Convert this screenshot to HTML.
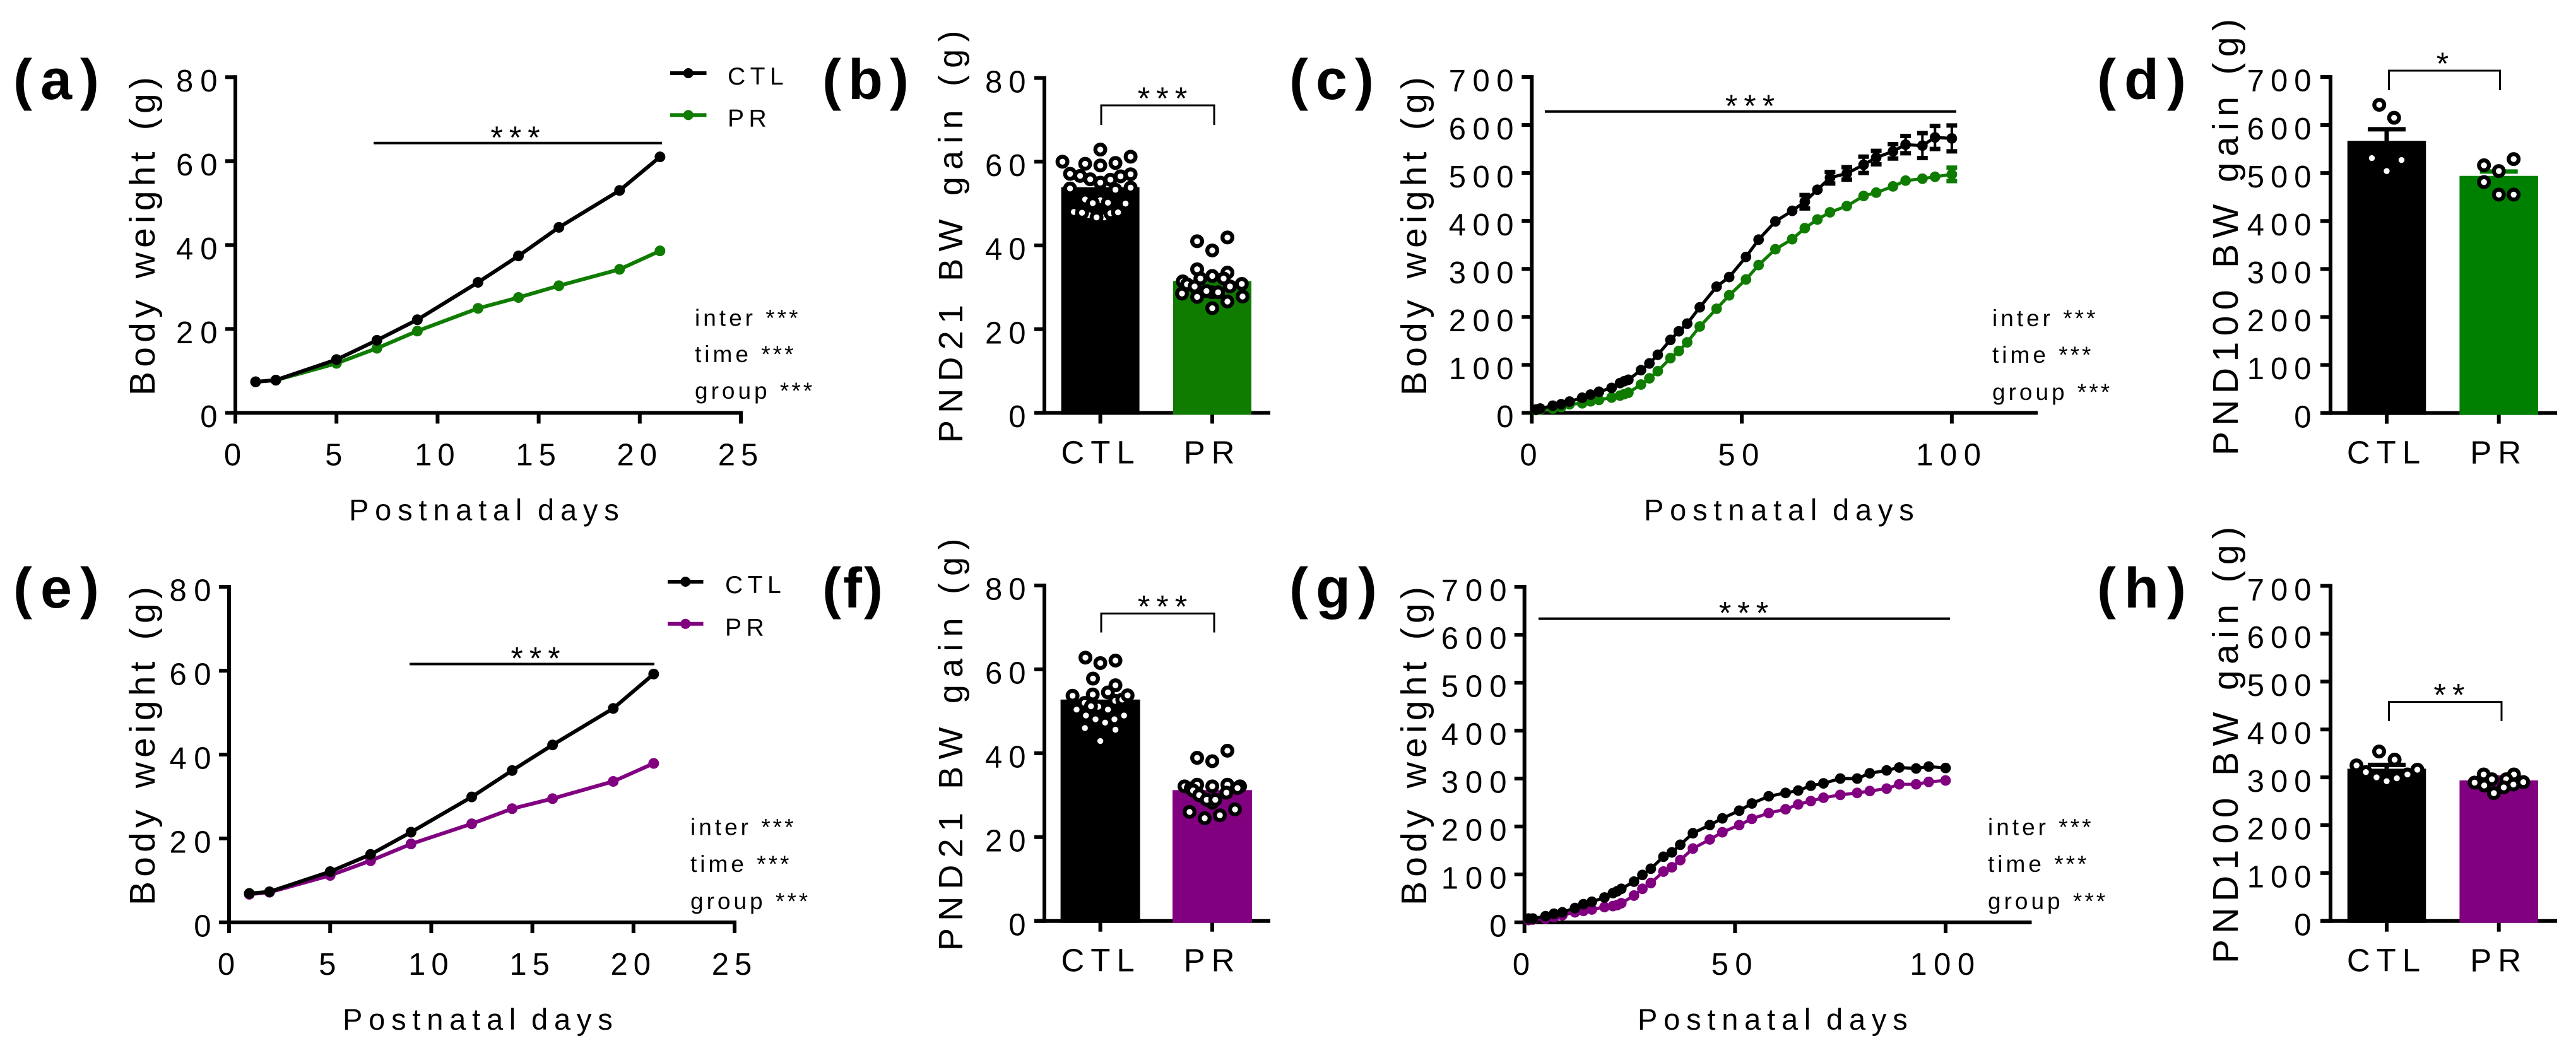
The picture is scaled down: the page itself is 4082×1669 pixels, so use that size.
<!DOCTYPE html>
<html lang="en">
<head>
<meta charset="utf-8">
<title>Body weight charts</title>
<style>
html,body{margin:0;padding:0;background:#fff;}
svg{display:block;font-family:"Liberation Sans",Arial,sans-serif;}
</style>
</head>
<body>
<svg id="figure" xmlns="http://www.w3.org/2000/svg" width="4082" height="1669" viewBox="0 0 4082 1669"></svg>
<script>
// ---------- data ----------
const daysShort = [1,2,5,7,9,12,14,16,19,21];
const daysLong = [1,2,5,7,9,12,14,16,19,21,22,23,26,28,30,33,35,37,40,44,47,51,54,58,62,65,68,71,75,79,82,86,89,93,96,100];
const xTicksShort = [0,5,10,15,20,25];
const xTicksLong = [0,50,100];
const yTicksSmall = [0,20,40,60,80];
const yTicksLarge = [0,100,200,300,400,500,600,700];
const categories = ['CTL','PR'];

const ctlA = [7.4,7.8,12.7,17.3,22.2,31.1,37.4,44.2,53,61];
const prA = [7.4,7.8,11.8,15.4,19.5,24.9,27.5,30.3,34.2,38.6];
const ctlE = [6.9,7.3,12.1,16.2,21.5,29.9,36.2,42.3,51,59.2];
const prE = [6.7,7.2,11.2,14.7,18.7,23.5,27.1,29.5,33.6,37.9];

const ctlC = [7,9,15,18,23.5,31.5,38,44,52,62,66,69,89,103,121,152,170,186,220,263,283,325,361,399,421,440,465,490,499,517,532,545,559,557,574,572];
const prC = [6,7,9,12,18,20,24,27,32,36,39,42,59,72,87,114,129,147,180,217,245,278,308,341,362,385,403,418,431,452,459,472,484,488,492,497];
const ctlCErr = [0,0,0,0,0,0,0,0,0,0,0,0,0,0,0,0,0,0,0,0,0,0,0,0,0,14,0,12,13,17,14,15,18,26,24,27];
const prCErr = [0,0,0,0,0,0,0,0,0,0,0,0,0,0,0,0,0,0,0,0,0,0,0,0,0,0,0,0,0,0,0,0,0,0,0,14];

const ctlG = [8,8,13,18,21,30,38,43,52,61,65,70,85,99,112,137,146,162,186,203,217,233,248,263,270,275,285,290,300,300,311,317,323,321,325,322];
const prG = [5,6,8,11,15,21,24,27,32,34,36,40,56,70,82,106,115,130,154,173,188,203,216,228,236,246,253,260,266,270,274,279,288,288,293,296];

const meansB = [53.9,31.5];
const meansD = [567,494];
const errsD = [24,9];
const meansF = [52.8,31.2];
const meansH = [318,293.6];
const errsH = [8,6];

// scatter values and their swarm lanes (lane = horizontal swarm slot)
const ptsBCtl = [51.0,50.8,48.0,47.2,46.7,47.7,62.9,60.0,59.5,59.1,59.7,61.2,57.1,56.6,55.8,55.0,55.7,56.5,57.0,53.6,53.3,53.8,50.1,50.2,50.0,47.8,46.7,47.9];
const lanesBCtl = [-6,0,-10.5,-4.4,1.5,4,0,-15,-6,0,6,12,-12,-8,-4,0,4,8,12,-12,6,12,-3,3,10,-7.25,-1.5,7];
const ptsBPr = [33.5,30.8,28.8,41.9,41.0,38.8,34.3,32.7,32.1,32.1,31.4,30.7,30.2,30.2,29.1,28.8,28.5,27.7,26.6,27.8,25.0];
const lanesBPr = [6,11.7,0,6,-6,0,-6,0,-4.7,4.5,-11.7,-10,-7,7,-2.3,2.3,-12,-6,6,12,0];

const ptsDCtl = [642,615,531,527,504];
const lanesDCtl = [-3,3,-6,6,0];
const ptsDPr = [529,516,504,481,455,455];
const lanesDPr = [6,-6,0,-6,0,6];

const ptsFCtl = [51.1,52.5,52.8,62.8,61.5,62.1,57.8,56.2,54,54.5,53.7,53.8,52,51.2,50.4,50.4,49,48.1,47.3,48.1,49,46,45.6,42.9];
const lanesFCtl = [-0.8,5.9,8.7,-5.9,0,6,-2.9,6,-3,3,-11,10.8,-6.2,-3.7,-9.4,3,-5.7,-1.9,1.9,5.6,9.4,-6.1,6,0];
const ptsFPr = [32.1,28.2,31.6,40.6,38.9,38.1,32.5,32.1,32.5,32.1,31.1,31.7,30.6,30,28.9,28.9,26,26.6,25.2,24.5];
const lanesFPr = [-11,0,-8.5,6,-6,0,-6,0,6,11,-7.6,10,5.6,-5.2,-2.2,1.2,-9,9,3,-3];

const ptsHCtl = [354,337,325,316,311,306,300,298,292];
const lanesHCtl = [-3.06,3.2,-12.2,12.4,-8.4,8.4,-4.1,4.1,0];
const ptsHPr = [306,306,296,296,289,290,283,285,279,267];
const lanesHPr = [-6.1,6.1,-2.8,3,-9.8,9.9,-5.9,5.9,2,-2];

// ---------- colours ----------
const BLACK = '#000000';
const GREEN = '#0f7c00';
const GREEN2 = '#008000';
const PURPLE = '#800080';

// ---------- primitives ----------
const NS = 'http://www.w3.org/2000/svg';
const root = document.getElementById('figure');
function make(tag, attrs, parent){
  const el = document.createElementNS(NS, tag);
  for(const k in attrs){ el.setAttribute(k, attrs[k]); }
  parent.appendChild(el);
  return el;
}
function seg(parent, x1, y1, x2, y2, color, w){
  return make('line', {x1:x1, y1:y1, x2:x2, y2:y2, stroke:color, 'stroke-width':w}, parent);
}
function label(parent, str, x, y, size, ls, anchor, weight, rot){
  const attrs = {x:x, y:y, 'font-size':size, 'text-anchor':anchor, 'font-weight':weight, fill:'#000'};
  if(rot){ attrs.transform = 'rotate(-90 ' + x + ' ' + y + ')'; }
  const el = make('text', attrs, parent);
  el.style.letterSpacing = ls + 'px';
  el.textContent = str;
  return el;
}
function group(name){
  const g = make('g', {}, root);
  
  
  return g;
}

// ---------- shared parts ----------
function drawLetter(cfg){
  const t = label(cfg.g, cfg.letter, cfg.letterX, cfg.letterY, 90, cfg.letterLs, 'start', 'bold', false);
  
  
}
function drawYAxis(cfg, sy, ticks){
  const g = cfg.g;
  const axis = seg(g, cfg.x0, sy(ticks[ticks.length-1]) - 3, cfg.x0, cfg.y0 + 3, BLACK, 6);
  
  
  ticks.forEach(function(v){
    const tk = seg(g, cfg.x0 - 16, sy(v), cfg.x0, sy(v), BLACK, 6);
    
    
    const lb = label(g, String(v), cfg.yLabelRight + cfg.yLabelLs + 1.5, sy(v) + 22.7, 49, cfg.yLabelLs, 'end', 'normal', false);
    
    
  });
  const ti = label(g, cfg.yTitle, cfg.yTitleX, cfg.yTitleY, cfg.yTitleSize, cfg.yTitleLs, 'start', 'normal', true);
  
  
  ti.style.wordSpacing = cfg.yTitleWs + 'px';
}
function drawStars(g, str, cx, cy){
  const s = label(g, str, cx + 5, cy + 21, 50, 10, 'middle', 'normal', false);
  
  
}

// ---------- line panels ----------
function drawLinePanel(cfg){
  const g = cfg.g;
  const sx = function(v){ return cfg.x0 + v * (cfg.xEnd - cfg.x0) / cfg.xMax; };
  const sy = function(v){ return cfg.y0 - v * (cfg.y0 - cfg.yTop) / cfg.yMax; };
  drawLetter(cfg);
  drawYAxis(cfg, sy, cfg.yTicks);
  const xa = seg(g, cfg.x0 - 3, cfg.y0, sx(cfg.xMax) + 3, cfg.y0, BLACK, 6);
  
  
  cfg.xTicks.forEach(function(v){
    const tk = seg(g, sx(v), cfg.y0, sx(v), cfg.y0 + 17, BLACK, 6);
    
    
    const lb = label(g, String(v), sx(v), cfg.y0 + 83, 49, cfg.xLabelLs, 'middle', 'normal', false);
    
    
  });
  const xt = label(g, 'Postnatal days', cfg.xTitleX, cfg.y0 + 170, 47, 9.8, 'start', 'normal', false);
  
  
  xt.style.wordSpacing = '-8px';

  // series: PR first, CTL on top
  const series = [
    {name:'pr', vals:cfg.pr, errs:cfg.prErr, color:cfg.color},
    {name:'ctl', vals:cfg.ctl, errs:cfg.ctlErr, color:BLACK}
  ];
  series.forEach(function(s){
    const sg = make('g', {}, g);
    
    
    const pts = cfg.days.map(function(d, i){ return sx(d) + ',' + sy(s.vals[i]); }).join(' ');
    const ln = make('polyline', {points:pts, fill:'none', stroke:s.color, 'stroke-width':cfg.lineW}, sg);
    
    
    cfg.days.forEach(function(d, i){
      const e = s.errs ? s.errs[i] : 0;
      if(e > 0){
        const stem = seg(sg, sx(d), sy(s.vals[i] - e), sx(d), sy(s.vals[i] + e), s.color, 4);
        
        
        const capT = seg(sg, sx(d) - 8.5, sy(s.vals[i] + e), sx(d) + 8.5, sy(s.vals[i] + e), s.color, 7);
        
        
        const capB = seg(sg, sx(d) - 8.5, sy(s.vals[i] - e), sx(d) + 8.5, sy(s.vals[i] - e), s.color, 7);
        
        
      }
      const c = make('circle', {cx:sx(d), cy:sy(s.vals[i]), r:cfg.markerR, fill:s.color}, sg);
      
      
    });
  });

  // significance line
  const sl = seg(g, cfg.sigX1, cfg.sigY, cfg.sigX2, cfg.sigY, BLACK, 4);
  
  
  drawStars(g, '***', cfg.starX, cfg.sigY - 13);

  // stats
  ['inter','time','group'].forEach(function(word, i){
    const t = label(g, word + ' ', cfg.statX, cfg.statY[i], 37, 5, 'start', 'normal', false);
    
    
    const sp = make('tspan', {}, t);
    sp.style.letterSpacing = '4px';
    sp.textContent = '***';
  });

  // legend
  if(cfg.legend){
    const L = cfg.legend;
    const lg = make('g', {}, g);
    
    
    [[categories[0], BLACK, L.y1, L.t1],[categories[1], cfg.color, L.y2, L.t2]].forEach(function(row){
      const ll = seg(lg, L.x1, row[2], L.x2, row[2], row[1], 6);
      
      
      const lm = make('circle', {cx:(L.x1 + L.x2) / 2, cy:row[2], r:8, fill:row[1]}, lg);
      
      
      const lt = label(lg, row[0], L.tx, row[3], 39, 7.5, 'start', 'normal', false);
      
      
    });
  }
}

// ---------- bar panels ----------
function drawBarPanel(cfg){
  const g = cfg.g;
  const sy = function(v){ return cfg.y0 - v * (cfg.y0 - cfg.yTop) / cfg.yMax; };
  drawLetter(cfg);
  drawYAxis(cfg, sy, cfg.yTicks);
  const xa = seg(g, cfg.x0 - 16, cfg.y0, cfg.xEnd, cfg.y0, BLACK, 6);
  
  
  const colors = [BLACK, cfg.color];
  categories.forEach(function(cat, i){
    const cx = cfg.cx[i];
    const tk = seg(g, cx, cfg.y0, cx, cfg.y0 + 17, BLACK, 6);
    
    
    const lb = label(g, cat, cx + cfg.catShift[i], cfg.y0 + 80, 51, cfg.catLs, 'middle', 'normal', false);
    
    
    const bar = make('rect', {x:cx - cfg.barW / 2, y:sy(cfg.means[i]), width:cfg.barW, height:cfg.y0 + 3 - sy(cfg.means[i]), fill:colors[i]}, g);
    
    
    if(cfg.errs){
      const top = sy(cfg.means[i] + cfg.errs[i]);
      const stem = seg(g, cx, top, cx, sy(cfg.means[i]), colors[i], 7);
      
      
      const cap = seg(g, cx - 30, top, cx + 30, top, colors[i], 7);
      
      
    }
    cfg.pts[i].forEach(function(v, j){
      const d = make('circle', {cx:cx + cfg.lanes[i][j] * cfg.laneUnit, cy:sy(v), r:7.85, fill:'#fff', stroke:'#000', 'stroke-width':6.3}, g);
      
      
    });
  });
  const B = cfg.bracket;
  const br = make('polyline', {points:B.x1 + ',' + B.yb + ' ' + B.x1 + ',' + B.yt + ' ' + B.x2 + ',' + B.yt + ' ' + B.x2 + ',' + B.yb, fill:'none', stroke:'#000', 'stroke-width':3}, g);
  
  
  drawStars(g, cfg.stars, cfg.starX, B.yt - 15);
}

// ---------- panels ----------
drawLinePanel({g:group('panel-a'), letter:'(a)', letterX:21, letterY:157, letterLs:13,
  x0:373, xEnd:1174, xMax:25, y0:654.4, yTop:122.3, yMax:80, xTicks:xTicksShort, yTicks:yTicksSmall,
  yLabelRight:343, yLabelLs:11, xLabelLs:9,
  yTitle:'Body weight (g)', yTitleX:245, yTitleY:627, yTitleSize:57, yTitleLs:7.2, yTitleWs:4,
  xTitleX:553, days:daysShort, ctl:ctlA, pr:prA, color:GREEN, lineW:6, markerR:8.5,
  sigX1:592, sigX2:1049, sigY:226.8, starX:816.5,
  statX:1101, statY:[516.6,574,632],
  legend:{x1:1062, x2:1119.5, y1:116, y2:182.4, tx:1153, t1:134, t2:200.3}});

drawBarPanel({g:group('panel-b'), letter:'(b)', letterX:1303, letterY:157, letterLs:11,
  x0:1655, xEnd:2013, y0:654.4, yTop:123.6, yMax:80, yTicks:yTicksSmall,
  yLabelRight:1624, yLabelLs:10,
  yTitle:'PND21 BW gain (g)', yTitleX:1525, yTitleY:702, yTitleSize:54, yTitleLs:11.2, yTitleWs:0,
  cx:[1743.6,1921], catShift:[1,0], catLs:10, barW:124, means:meansB, color:GREEN, laneUnit:4,
  pts:[ptsBCtl, ptsBPr], lanes:[lanesBCtl, lanesBPr],
  bracket:{x1:1745, x2:1924, yt:167, yb:198}, stars:'***', starX:1842});

drawLinePanel({g:group('panel-c'), letter:'(c)', letterX:2043, letterY:157, letterLs:12,
  x0:2427.3, xEnd:3226, xMax:120, y0:654.4, yTop:122, yMax:700, xTicks:xTicksLong, yTicks:yTicksLarge,
  yLabelRight:2397, yLabelLs:10.5, xLabelLs:10.5,
  yTitle:'Body weight (g)', yTitleX:2260, yTitleY:627, yTitleSize:57, yTitleLs:7.2, yTitleWs:4,
  xTitleX:2605, days:daysLong, ctl:ctlC, pr:prC, ctlErr:ctlCErr, prErr:prCErr, color:GREEN, lineW:5, markerR:8.4,
  sigX1:2448, sigX2:3100, sigY:176.8, starX:2773,
  statX:3157, statY:[517,575,634]});

drawBarPanel({g:group('panel-d'), letter:'(d)', letterX:3323, letterY:157, letterLs:13,
  x0:3693, xEnd:4052, y0:654.6, yTop:122, yMax:700, yTicks:yTicksLarge,
  yLabelRight:3661, yLabelLs:10,
  yTitle:'PND100 BW gain (g)', yTitleX:3546, yTitleY:722, yTitleSize:57, yTitleLs:9.4, yTitleWs:0,
  cx:[3782,3959.7], catShift:[0,0], catLs:10, barW:124.5, means:meansD, errs:errsD, color:GREEN2, laneUnit:3.92,
  pts:[ptsDCtl, ptsDPr], lanes:[lanesDCtl, lanesDPr],
  bracket:{x1:3785.5, x2:3961.5, yt:112, yb:143}, stars:'*', starX:3870.5});

drawLinePanel({g:group('panel-e'), letter:'(e)', letterX:21, letterY:963, letterLs:13,
  x0:363, xEnd:1164, xMax:25, y0:1462, yTop:930, yMax:80, xTicks:xTicksShort, yTicks:yTicksSmall,
  yLabelRight:333, yLabelLs:11.5, xLabelLs:9,
  yTitle:'Body weight (g)', yTitleX:245, yTitleY:1435, yTitleSize:57, yTitleLs:7.2, yTitleWs:4,
  xTitleX:543, days:daysShort, ctl:ctlE, pr:prE, color:PURPLE, lineW:6, markerR:8.5,
  sigX1:649, sigX2:1037, sigY:1052.5, starX:848.5,
  statX:1094, statY:[1323.6,1382,1441],
  legend:{x1:1058, x2:1114.5, y1:922, y2:988.8, tx:1149, t1:939.8, t2:1007.6}});

drawBarPanel({g:group('panel-f'), letter:'(f)', letterX:1303, letterY:963, letterLs:3,
  x0:1655, xEnd:2013, y0:1459.7, yTop:928, yMax:80, yTicks:yTicksSmall,
  yLabelRight:1624, yLabelLs:10,
  yTitle:'PND21 BW gain (g)', yTitleX:1525, yTitleY:1507, yTitleSize:54, yTitleLs:11.2, yTitleWs:0,
  cx:[1743.6,1921], catShift:[1,0], catLs:10, barW:126, means:meansF, color:PURPLE, laneUnit:4,
  pts:[ptsFCtl, ptsFPr], lanes:[lanesFCtl, lanesFPr],
  bracket:{x1:1745, x2:1924, yt:972.4, yb:1002.5}, stars:'***', starX:1842});

drawLinePanel({g:group('panel-g'), letter:'(g)', letterX:2043, letterY:963, letterLs:12,
  x0:2415.7, xEnd:3216.5, xMax:120, y0:1462, yTop:930, yMax:700, xTicks:xTicksLong, yTicks:yTicksLarge,
  yLabelRight:2386, yLabelLs:11, xLabelLs:10.5,
  yTitle:'Body weight (g)', yTitleX:2260, yTitleY:1435, yTitleSize:57, yTitleLs:7.2, yTitleWs:4,
  xTitleX:2595, days:daysLong, ctl:ctlG, pr:prG, color:PURPLE, lineW:5, markerR:8.4,
  sigX1:2438, sigX2:3090, sigY:980.6, starX:2763,
  statX:3150, statY:[1323.6,1382,1441]});

drawBarPanel({g:group('panel-h'), letter:'(h)', letterX:3323, letterY:963, letterLs:13,
  x0:3693, xEnd:4052, y0:1459.7, yTop:928.6, yMax:700, yTicks:yTicksLarge,
  yLabelRight:3661, yLabelLs:10,
  yTitle:'PND100 BW gain (g)', yTitleX:3546, yTitleY:1527, yTitleSize:57, yTitleLs:9.4, yTitleWs:0,
  cx:[3782,3959.7], catShift:[0,0], catLs:10, barW:124.5, means:meansH, errs:errsH, color:PURPLE, laneUnit:3.92,
  pts:[ptsHCtl, ptsHPr], lanes:[lanesHCtl, lanesHPr],
  bracket:{x1:3785.5, x2:3964, yt:1112.6, yb:1142.7}, stars:'**', starX:3881});
</script>
</body>
</html>
